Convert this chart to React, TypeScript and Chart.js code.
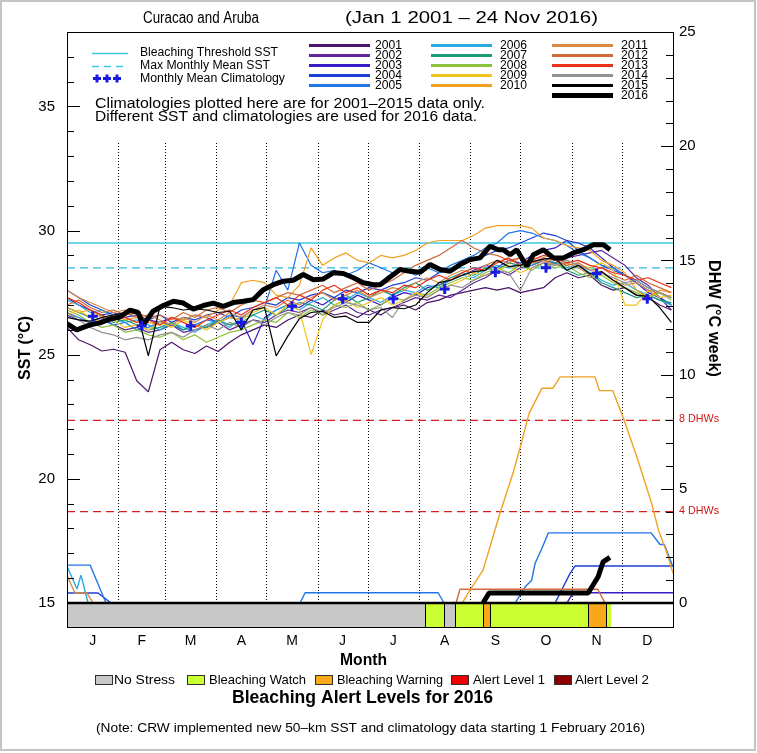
import React, { useEffect, useRef } from "react";
import { Chart, registerables } from "chart.js";
Chart.register(...registerables);

// ---------------- data ----------------
const WEEK_DAYS = [0, 7, 14, 21, 28, 35, 42, 49, 56, 63, 70, 77, 84, 91, 98, 105, 112, 119, 126, 133, 140, 147, 154, 161, 168, 175, 182, 189, 196, 203, 210, 217, 224, 231, 238, 245, 252, 259, 266, 273, 280, 287, 294, 301, 308, 315, 322, 329, 336, 343, 350, 357, 364];

const SST_2001 = [26.1, 25.6, 25.4, 25.15, 25.22, 25.1, 23.95, 23.5, 25.2, 25.5, 25.2, 25.05, 25.35,
  25.13, 25.5, 25.8, 26.0, 26.2, 26.1, 26.4, 26.6, 26.5, 26.8, 26.6, 26.7, 26.5,
  26.8, 26.6, 26.9, 27.0, 26.8, 27.1, 27.2, 27.4, 27.5, 27.6, 27.7, 27.6, 27.7,
  27.5, 27.6, 27.7, 28.1, 28.3, 28.1, 28.2, 27.8, 27.6, 27.7, 27.4, 27.3, 27.0, 26.8];
const SST_2002 = [26.6, 26.4, 26.3, 26.5, 26.2, 26.0, 26.1, 25.9, 26.0, 26.2, 25.9, 26.0, 26.1,
  26.3, 26.0, 26.2, 26.4, 26.3, 26.6, 26.8, 26.7, 26.9, 26.6, 26.8, 27.0, 26.7,
  26.6, 26.8, 26.9, 27.1, 27.3, 27.2, 27.4, 27.3, 27.6, 27.9, 28.1, 28.4, 28.2,
  28.5, 28.6, 28.8, 28.7, 28.9, 29.0, 29.1, 29.2, 28.9, 28.6, 28.1, 27.8, 27.3, 26.8];
const SST_2003 = [27.3, 27.0, 26.8, 26.6, 26.7, 26.5, 26.6, 26.4, 26.3, 26.5, 26.4, 26.6, 26.5,
  26.3, 26.5, 26.4, 25.4, 26.5, 26.8, 27.0, 26.9, 27.2, 27.0, 27.3, 27.1, 27.4,
  27.2, 27.0, 27.3, 27.5, 27.4, 27.7, 27.8, 28.0, 28.2, 28.4, 28.6, 28.5, 28.8,
  28.7, 29.0, 29.2, 29.3, 29.6, 29.5, 29.3, 28.9, 28.5, 28.2, 27.9, 27.5, 27.3, 27.0];
const SST_2004 = [27.6, 27.3, 27.0, 26.8, 26.6, 26.7, 26.5, 26.4, 26.6, 26.3, 26.5, 26.4, 26.6,
  26.7, 26.5, 26.8, 26.9, 27.1, 27.0, 27.3, 27.2, 27.4, 27.5, 27.3, 27.6, 27.5,
  27.7, 27.6, 27.8, 27.9, 28.1, 28.0, 28.3, 28.4, 28.6, 28.9, 29.0, 29.2, 29.3,
  29.5, 29.7, 29.9, 29.8, 29.6, 29.2, 28.9, 28.6, 28.4, 28.2, 27.9, 27.6, 27.3, 27.0];
const SST_2005 = [26.7, 26.5, 26.3, 26.4, 26.2, 26.3, 26.0, 26.1, 26.3, 26.2, 26.0, 26.2, 26.4,
  26.3, 26.6, 26.5, 26.8, 26.9, 28.4, 27.6, 29.5, 28.6, 28.3, 28.4, 28.2, 28.4,
  28.7, 28.5, 28.3, 28.4, 28.2, 28.5, 28.3, 28.6, 28.8, 29.0, 29.3, 29.5, 29.9,
  30.0, 29.9, 29.7, 29.6, 29.4, 29.1, 28.9, 28.6, 28.5, 28.2, 28.0, 27.7, 27.5, 27.3];
const SST_2006 = [27.2, 27.0, 26.7, 26.8, 26.5, 26.3, 26.4, 26.2, 26.0, 26.3, 26.1, 25.9, 26.2,
  26.4, 26.1, 26.5, 26.6, 26.4, 26.8, 27.0, 26.8, 27.1, 27.3, 27.0, 27.2, 27.5,
  27.3, 27.1, 27.4, 27.6, 27.5, 27.8, 27.7, 28.0, 28.2, 28.1, 28.4, 28.6, 28.5,
  28.7, 28.6, 28.9, 28.7, 28.5, 28.6, 28.3, 28.0, 27.8, 27.9, 27.6, 27.4, 27.2, 27.0];
const SST_2007 = [26.9, 26.7, 26.5, 26.6, 26.3, 26.4, 26.2, 26.0, 26.1, 26.3, 26.0, 26.2, 26.1,
  26.4, 26.2, 26.3, 26.6, 26.8, 26.6, 26.9, 27.1, 27.0, 26.8, 27.2, 27.4, 27.1,
  27.3, 27.6, 27.4, 27.7, 27.9, 27.6, 27.8, 28.1, 28.3, 28.2, 28.5, 28.4, 28.7,
  28.6, 28.8, 28.5, 28.7, 28.4, 28.2, 28.3, 27.9, 27.7, 27.5, 27.3, 27.4, 27.2, 27.1];
const SST_2008 = [26.8, 26.6, 26.3, 26.1, 26.2, 25.9, 26.0, 25.8, 25.7, 25.9, 25.6, 25.8, 25.5,
  25.7, 25.9, 26.0, 26.2, 26.4, 26.3, 26.7, 26.5, 26.8, 26.6, 27.0, 26.9, 27.1,
  26.8, 27.0, 27.3, 27.2, 27.5, 27.4, 27.7, 27.9, 28.1, 28.0, 28.3, 28.5, 28.3,
  28.6, 28.4, 28.7, 28.5, 28.6, 28.3, 28.1, 28.2, 27.9, 27.7, 27.5, 27.3, 27.5, 27.2];
const SST_2009 = [26.6, 26.8, 26.5, 26.3, 26.4, 26.1, 26.2, 26.0, 26.3, 26.1, 26.4, 26.2, 26.0,
  26.3, 26.5, 26.4, 26.7, 26.9, 26.6, 27.0, 26.8, 25.0, 26.4, 27.0, 27.2, 26.9,
  27.1, 27.3, 27.0, 27.2, 27.5, 27.3, 27.6, 27.8, 28.0, 28.3, 28.2, 28.4, 28.6,
  28.3, 28.5, 28.7, 28.9, 28.8, 28.6, 28.5, 28.7, 28.4, 27.0, 27.0, 27.6, 27.3, 27.4];
const SST_2010 = [26.9, 26.7, 26.8, 26.5, 26.6, 26.4, 26.5, 26.3, 26.2, 26.5, 26.4, 26.6, 26.5,
  26.8, 27.0, 27.9, 28.0, 27.9, 27.4, 27.3, 27.8, 29.3, 28.6, 28.9, 29.1, 28.8,
  28.7, 29.0, 28.9, 29.0, 29.2, 29.5, 29.6, 29.6, 29.6, 29.8, 30.1, 30.2, 30.2,
  30.2, 30.1, 29.7, 29.6, 29.4, 29.3, 29.2, 28.8, 28.6, 28.3, 27.6, 27.3, 27.6, 27.5];
const SST_2011 = [27.6, 27.3, 27.1, 26.9, 26.7, 26.8, 26.5, 26.6, 26.4, 26.2, 26.5, 26.3, 26.6,
  26.4, 26.7, 26.5, 26.8, 27.0, 26.9, 27.2, 27.0, 27.3, 27.5, 27.2, 27.4, 27.6,
  27.3, 27.5, 27.7, 27.6, 27.9, 28.1, 27.9, 28.2, 28.4, 28.3, 28.6, 28.8, 28.7,
  28.9, 28.7, 28.8, 28.6, 28.7, 28.5, 28.2, 28.3, 28.0, 27.8, 27.9, 27.6, 27.5, 27.3];
const SST_2012 = [27.0, 27.2, 26.9, 26.7, 26.8, 26.6, 26.7, 26.5, 26.6, 26.4, 26.7, 26.5, 26.8,
  26.9, 26.7, 27.0, 27.2, 27.1, 27.3, 27.5, 27.4, 27.6, 27.8, 27.5, 27.7, 27.9,
  27.6, 27.8, 28.0, 28.3, 28.6, 28.8, 29.0, 29.3, 29.6, 29.3, 29.1, 29.0, 28.8,
  28.9, 28.7, 28.9, 28.8, 28.6, 28.7, 28.4, 28.5, 28.2, 28.0, 28.2, 27.9, 27.7, 27.5];
const SST_2013 = [27.3, 27.1, 26.8, 26.6, 26.4, 26.5, 26.3, 26.4, 26.2, 26.5, 26.3, 26.1, 26.4,
  26.6, 26.8, 26.6, 26.9, 27.1, 27.3, 27.0, 27.4, 27.2, 27.6, 27.8, 27.5, 27.7,
  27.4, 27.6, 27.5, 27.8, 27.7, 28.0, 28.2, 28.0, 28.3, 28.5, 28.4, 28.7, 28.9,
  28.6, 28.8, 29.0, 28.9, 28.7, 28.8, 28.6, 28.5, 28.3, 28.2, 28.0, 28.1, 27.9, 27.7];
const SST_2014 = [26.7, 26.4, 26.1, 25.9, 25.8, 25.6, 25.7, 25.6, 25.8, 25.9, 25.7, 26.0, 26.2,
  26.0, 26.3, 26.1, 26.4, 26.2, 26.5, 26.7, 26.6, 26.9, 26.7, 26.9, 27.1, 27.0,
  26.8, 26.9, 26.5, 27.2, 27.4, 27.3, 27.6, 27.8, 27.7, 28.0, 28.2, 28.4, 28.3,
  27.6, 28.5, 28.7, 28.6, 28.8, 28.6, 28.4, 28.3, 28.1, 27.9, 28.0, 27.7, 27.5, 27.3];
const SST_2015 = [26.5, 26.4, 26.35, 26.5, 26.6, 26.7, 26.75, 24.95, 26.95, 26.9, 26.8, 26.85, 26.8,
  26.7, 26.75, 26.0, 26.8, 26.9, 24.95, 25.75, 26.45, 26.7, 26.75, 26.5, 26.55, 26.3,
  26.3, 26.8, 26.9, 26.85, 27.0, 27.5, 27.9, 28.0, 28.2, 28.35, 28.4, 28.8, 28.55,
  28.6, 28.75, 28.85, 28.9, 28.4, 28.6, 28.25, 28.35, 28.0, 27.7, 27.4, 27.35, 26.9, 26.3];

const SST_2016_DAYS = [0, 5.8, 13.9, 19.9, 25.9, 31.9, 38.0, 42.8, 46.0, 51.8,
  58.0, 64.0, 70.1, 76.1, 82.1, 88.1, 94.2, 100.2, 106.2, 112.2,
  118.3, 124.3, 130.3, 136.3, 142.3, 148.4, 154.4, 160.4, 166.4, 172.5,
  178.5, 184.5, 188.6, 194.6, 200.6, 206.6, 212.7, 218.7, 224.7, 230.7,
  236.7, 242.8, 248.8, 254.8, 259.8, 262.8, 266.9, 270.9, 276.9, 280.9,
  286.9, 293.0, 299.0, 305.0, 311.0, 317.0, 323.1, 327.1];
const SST_2016 = [26.25, 26.0, 26.2, 26.28, 26.44, 26.52, 26.8, 26.7, 26.2, 26.75,
  26.98, 27.15, 27.08, 26.84, 26.98, 27.08, 26.95, 27.1, 27.15, 27.22,
  27.62, 27.82, 27.96, 28.0, 28.23, 28.02, 28.05, 28.3, 28.27, 28.1,
  27.9, 27.82, 27.82, 28.13, 28.43, 28.36, 28.32, 28.63, 28.43, 28.36,
  28.63, 28.83, 28.9, 29.37, 29.23, 29.23, 29.03, 29.23, 28.56, 29.03,
  29.23, 28.9, 28.9, 29.1, 29.23, 29.43, 29.43, 29.23];

// Degree heating weeks (right axis)
const DHW_2003_DAYS = [301, 305, 365];
const DHW_2003 = [0, 0.45, 0.45];
const DHW_2004_DAYS = [0, 18.7, 26.5, 294, 303, 306, 365];
const DHW_2004 = [0.44, 0.44, 0, 0, 1.3, 1.62, 1.62];
const DHW_2005_DAYS = [0, 13.9, 23.5, 140.4, 143.4, 223.5, 227.1, 269.9, 276, 279.9, 281.9, 286, 289.9, 351.8, 357.2, 359.8, 365];
const DHW_2005 = [1.66, 1.66, 0, 0, 0.45, 0.45, 0, 0, 0.71, 1.0, 1.73, 2.39, 3.07, 3.07, 2.56, 2.56, 1.58];
const DHW_2006_DAYS = [0, 6, 8.4, 12.7];
const DHW_2006 = [1.62, 0.61, 1.22, 0];
const DHW_2010_DAYS = [238, 243, 250.6, 260.8, 268.7, 272.9, 278.3, 286, 292.6, 297, 318, 320.7, 328.7, 335.1, 343.2, 352.2, 356.2, 361.3, 365];
const DHW_2010 = [0, 0.6, 1.44, 3.94, 5.7, 6.8, 8.3, 9.4, 9.4, 9.9, 9.9, 9.3, 9.3, 8.1, 6.4, 4.35, 3.2, 2.2, 1.3];
const DHW_2011_DAYS = [0, 4.8, 12, 15.7];
const DHW_2011 = [1.2, 0.44, 0.44, 0];
const DHW_2012_DAYS = [234.3, 236.7, 319.7, 324.1];
const DHW_2012 = [0, 0.6, 0.6, 0];
const DHW_2016_DAYS = [250.6, 254.2, 313.9, 319.9, 322.9, 327];
const DHW_2016 = [0, 0.44, 0.44, 1.15, 1.8, 2.0];

const MONTH_LETTERS = ["J", "F", "M", "A", "M", "J", "J", "A", "S", "O", "N", "D"];
const MONTH_MID_DAYS = [15.5, 45, 74.5, 105, 135.5, 166, 196.5, 227.5, 258, 288.5, 319, 349.5];
const MONTH_START_DAYS = [31, 59, 90, 120, 151, 181, 212, 243, 273, 304, 334];
const CLIMATOLOGY = [26.55, 26.17, 26.17, 26.3, 26.95, 27.25, 27.25, 27.65, 28.32, 28.5, 28.27, 27.25];
const BLEACHING_THRESHOLD = 29.5;
const MAX_MONTHLY_MEAN = 28.5;
const DHW_LEVELS = [8, 4];
const SST_TICKS = [15, 20, 25, 30, 35];
const DHW_TICKS = [0, 5, 10, 15, 20, 25];

// 2016 alert bar
const ALERT_START_DAYS = [0, 215.7, 227.1, 233.7, 250.6, 254.8, 313.9, 324.7];
const ALERT_END_DAY = 327.7;
const ALERT_LEVELS = [0, 1, 0, 1, 2, 1, 2, 1];
const ALERT_NAMES = ["No Stress", "Bleaching Watch", "Bleaching Warning", "Alert Level 1", "Alert Level 2"];
const ALERT_COLORS = ["#c8c8c8", "#ccff33", "#f8a818", "#ee0000", "#8b0000"];

const YEAR_LABELS = ["2001", "2002", "2003", "2004", "2005", "2006", "2007", "2008", "2009", "2010", "2011", "2012", "2013", "2014", "2015", "2016"];
const YEAR_COLORS = ["#4a1468", "#62289a", "#3a1cc4", "#1f40d6", "#1f76e4", "#2aaade", "#1a9c78", "#8cc23c", "#f2c41c", "#f2a022", "#d98a45", "#d26a3a", "#ea3018", "#929292", "#000000", "#000000"];
const YEAR_SST = [SST_2001, SST_2002, SST_2003, SST_2004, SST_2005, SST_2006, SST_2007, SST_2008, SST_2009, SST_2010, SST_2011, SST_2012, SST_2013, SST_2014, SST_2015];
const YEAR_DHW = [
  { year: "2003", days: DHW_2003_DAYS, vals: DHW_2003 },
  { year: "2004", days: DHW_2004_DAYS, vals: DHW_2004 },
  { year: "2005", days: DHW_2005_DAYS, vals: DHW_2005 },
  { year: "2006", days: DHW_2006_DAYS, vals: DHW_2006 },
  { year: "2011", days: DHW_2011_DAYS, vals: DHW_2011 },
  { year: "2012", days: DHW_2012_DAYS, vals: DHW_2012 },
  { year: "2010", days: DHW_2010_DAYS, vals: DHW_2010 },
];

// ---------------- helpers ----------------
const FONT = "'Liberation Sans', 'DejaVu Sans', Arial, sans-serif";
const TICK_FONT = "'Liberation Sans Narrow', 'Liberation Sans', 'DejaVu Sans', sans-serif";

const pts = (xs: number[], ys: number[]) => xs.map((x, i) => ({ x, y: ys[i] }));
const colorOf = (year: string) => YEAR_COLORS[YEAR_LABELS.indexOf(year)];

function fitText(ctx: CanvasRenderingContext2D, text: string, cx: number, cy: number, w: number, size: number, bold = false, color = "#000", rot = 0) {
  ctx.save();
  ctx.font = `${bold ? "bold " : ""}${size}px ${FONT}`;
  const m = ctx.measureText(text).width || 1;
  ctx.translate(cx, cy);
  if (rot) ctx.rotate(rot);
  ctx.scale(w / m, 1);
  ctx.textAlign = "center";
  ctx.textBaseline = "middle";
  ctx.fillStyle = color;
  ctx.fillText(text, 0, 0);
  ctx.restore();
}
const fitLeft = (ctx: CanvasRenderingContext2D, text: string, left: number, cy: number, w: number, size: number, bold = false, color = "#000") =>
  fitText(ctx, text, left + w / 2, cy, w, size, bold, color);

function line(ctx: CanvasRenderingContext2D, x0: number, y0: number, x1: number, y1: number) {
  ctx.beginPath();
  ctx.moveTo(x0, y0);
  ctx.lineTo(x1, y1);
  ctx.stroke();
}

const crwPlugin = {
  id: "crw",
  beforeDraw(chart: any) {
    const ctx = chart.ctx;
    ctx.save();
    ctx.fillStyle = "#ffffff";
    ctx.fillRect(0, 0, chart.width, chart.height);
    ctx.restore();
  },
  beforeDatasetsDraw(chart: any) {
    const { ctx, chartArea: a, scales } = chart;
    const xs = scales.x, ys = scales.y;
    ctx.save();
    // month dotted lines
    ctx.strokeStyle = "#000";
    ctx.lineWidth = 1;
    ctx.setLineDash([1, 2]);
    const yBase = Math.round(ys.getPixelForValue(15));
    MONTH_START_DAYS.forEach((d) => {
      const px = Math.round(xs.getPixelForValue(d)) + 0.5;
      line(ctx, px, a.top + 111, px, yBase);
    });
    ctx.setLineDash([]);
    // alert bar
    const top = ys.getPixelForValue(15);
    const bot = a.bottom;
    ALERT_START_DAYS.forEach((d, k) => {
      const x0 = xs.getPixelForValue(d);
      const x1 = xs.getPixelForValue(k + 1 < ALERT_START_DAYS.length ? ALERT_START_DAYS[k + 1] : ALERT_END_DAY);
      ctx.fillStyle = ALERT_COLORS[ALERT_LEVELS[k]];
      ctx.fillRect(x0, top, x1 - x0, bot - top);
    });
    ctx.strokeStyle = "#000";
    ctx.lineWidth = 1;
    ALERT_START_DAYS.forEach((d, k) => {
      if (k === 0) return;
      const px = Math.round(xs.getPixelForValue(d)) + 0.5;
      line(ctx, px, top, px, bot);
    });
    ctx.restore();
  },
  afterDatasetsDraw(chart: any) {
    const { ctx, chartArea: a, scales } = chart;
    const ys = scales.y, y2 = scales.y2;
    ctx.save();
    // frame
    ctx.strokeStyle = "#000";
    ctx.lineWidth = 1;
    ctx.strokeRect(Math.round(a.left) + 0.5, Math.round(a.top) + 0.5, Math.round(a.right - a.left), Math.round(a.bottom - a.top));
    // inner ticks
    for (let v = 15; v <= 38; v++) {
      const py = Math.round(ys.getPixelForValue(v)) + 0.5;
      line(ctx, a.left, py, a.left + (v % 5 === 0 ? 13 : 7), py);
    }
    for (let v = 0; v <= 25; v++) {
      const py = Math.round(y2.getPixelForValue(v)) + 0.5;
      line(ctx, a.right, py, a.right - (v % 5 === 0 ? 12 : 7), py);
    }
    // DHW labels
    DHW_LEVELS.forEach((lv) => {
      fitLeft(ctx, `${lv} DHWs`, a.right + 6, y2.getPixelForValue(lv) - 1, 40, 11, false, "#d01818");
    });
    // outer light border
    ctx.strokeStyle = "#c4c4c4";
    ctx.lineWidth = 2;
    ctx.strokeRect(1, 1, 754, 749);

    // title
    fitLeft(ctx, "Curacao and Aruba", 143, 19, 116, 16);
    fitLeft(ctx, "(Jan 1 2001 \u2013 24 Nov 2016)", 345, 19, 253, 16);

    // legend (left block)
    ctx.lineWidth = 1.5;
    ctx.strokeStyle = "#3cc8e4";
    line(ctx, 92, 53.5, 128, 53.5);
    ctx.setLineDash([7, 5]);
    line(ctx, 92, 66.5, 128, 66.5);
    ctx.setLineDash([]);
    ctx.strokeStyle = "#1a1ae6";
    ctx.lineWidth = 3;
    [97, 107, 117].forEach((cx) => {
      line(ctx, cx - 4, 78.5, cx + 4, 78.5);
      line(ctx, cx, 74.5, cx, 82.5);
    });
    fitLeft(ctx, "Bleaching Threshold SST", 140, 53, 138, 12);
    fitLeft(ctx, "Max Monthly Mean SST", 140, 66, 130, 12);
    fitLeft(ctx, "Monthly Mean Climatology", 140, 78.5, 145, 12);
    fitLeft(ctx, "Climatologies plotted here are for 2001\u20132015 data only.", 95, 104, 390, 14);
    fitLeft(ctx, "Different SST and climatologies are used for 2016 data.", 95, 117, 382, 14);

    // year legend
    const colLine = [309, 431, 552];
    const colText = [375, 500, 621];
    YEAR_LABELS.forEach((yr, k) => {
      const col = Math.min(Math.floor(k / 5), 2);
      const row = k < 15 ? k % 5 : 5;
      const yy = 45.5 + 10 * row;
      ctx.strokeStyle = YEAR_COLORS[k];
      ctx.lineWidth = yr === "2016" ? 5 : 3;
      line(ctx, colLine[col], yy, colLine[col] + 61, yy);
      fitLeft(ctx, yr, colText[col], yy, 27, 12.5);
    });

    // axis titles
    fitText(ctx, "SST (\u00B0C)", 26, 348, 64, 16, true, "#000", -Math.PI / 2);
    fitText(ctx, "DHW (\u00B0C week)", 713, 318.5, 117, 16, true, "#000", Math.PI / 2);
    fitText(ctx, "Month", 363.5, 661, 47, 16, true);

    // alert legend
    const boxX = [95, 187, 315, 451, 554];
    const txtX = [114, 209, 337, 473, 575];
    const txtW = [61, 97, 106, 72, 74];
    ALERT_NAMES.forEach((nm, k) => {
      ctx.fillStyle = ALERT_COLORS[k];
      ctx.fillRect(boxX[k], 675, 17, 9);
      ctx.strokeStyle = "#333";
      ctx.lineWidth = 1;
      ctx.strokeRect(boxX[k] + 0.5, 675.5, 17, 9);
      fitLeft(ctx, nm, txtX[k], 680, txtW[k], 13);
    });
    fitLeft(ctx, "Bleaching Alert Levels for 2016", 232, 698, 261, 18, true);
    fitLeft(ctx, "(Note: CRW implemented new 50\u2013km SST and climatology data starting 1 February 2016)", 96, 728, 549, 13);
    ctx.restore();
  },
};

// ---------------- datasets ----------------
function buildDatasets() {
  const bottomToTop: any[] = [];
  const base = { pointRadius: 0, borderJoinStyle: "bevel", tension: 0, fill: false };
  bottomToTop.push({ ...base, label: "Bleaching Threshold SST", yAxisID: "y", data: pts([0, 365], [BLEACHING_THRESHOLD, BLEACHING_THRESHOLD]), borderColor: "#3cc8e4", borderWidth: 1.3 });
  bottomToTop.push({ ...base, label: "Max Monthly Mean SST", yAxisID: "y", data: pts([0, 365], [MAX_MONTHLY_MEAN, MAX_MONTHLY_MEAN]), borderColor: "#30b8e0", borderWidth: 1.3, borderDash: [8, 5] });
  DHW_LEVELS.forEach((lv) => {
    bottomToTop.push({ ...base, label: `${lv} DHWs`, yAxisID: "y2", data: pts([0, 365], [lv, lv]), borderColor: "#d42020", borderWidth: 1.2, borderDash: [8, 5] });
  });
  YEAR_DHW.forEach((d) => {
    bottomToTop.push({ ...base, label: `DHW ${d.year}`, yAxisID: "y2", data: pts(d.days, d.vals), borderColor: colorOf(d.year), borderWidth: 1.4 });
  });
  bottomToTop.push({ ...base, label: "DHW 0", yAxisID: "y2", data: pts([0, 365], [0, 0]), borderColor: "#000", borderWidth: 2.5 });
  YEAR_SST.forEach((vals, k) => {
    bottomToTop.push({ ...base, label: YEAR_LABELS[k], yAxisID: "y", data: pts(WEEK_DAYS, vals), borderColor: YEAR_COLORS[k], borderWidth: 1.2 });
  });
  bottomToTop.push({ ...base, label: "DHW 2016", yAxisID: "y2", data: pts(DHW_2016_DAYS, DHW_2016), borderColor: "#000", borderWidth: 5 });
  bottomToTop.push({ ...base, label: "2016", yAxisID: "y", data: pts(SST_2016_DAYS, SST_2016), borderColor: "#000", borderWidth: 5 });
  bottomToTop.push({
    label: "Monthly Mean Climatology", yAxisID: "y", data: pts(MONTH_MID_DAYS, CLIMATOLOGY), showLine: false,
    pointStyle: "cross", pointRadius: 5, pointBorderWidth: 3, pointBorderColor: "#1a1ae6", pointBackgroundColor: "#1a1ae6",
  });
  return bottomToTop.reverse();
}

export default function App() {
  const ref = useRef<HTMLCanvasElement>(null);
  useEffect(() => {
    const canvas = ref.current;
    if (!canvas) return;
    const tickFont = { family: TICK_FONT, size: 15 };
    const chart = new Chart(canvas, {
      type: "line",
      data: { datasets: buildDatasets() },
      plugins: [crwPlugin],
      options: {
        responsive: false,
        animation: false,
        devicePixelRatio: 1,
        events: [],
        layout: { padding: { top: 32, left: 0, right: 0, bottom: 0 } },
        plugins: { legend: { display: false }, tooltip: { enabled: false }, title: { display: false } },
        scales: {
          x: {
            type: "linear", min: 0, max: 365,
            grid: { display: false, drawTicks: false }, border: { display: false },
            afterBuildTicks: (s: any) => { s.ticks = MONTH_MID_DAYS.map((v) => ({ value: v })); },
            afterFit: (s: any) => { s.height = 126; },
            ticks: { autoSkip: false, maxRotation: 0, minRotation: 0, padding: 6, color: "#000", font: { family: TICK_FONT, size: 14 }, callback: (_v: any, i: number) => MONTH_LETTERS[i] },
          },
          y: {
            type: "linear", position: "left", min: 14.03, max: 38.0,
            grid: { display: false, drawTicks: false }, border: { display: false },
            afterBuildTicks: (s: any) => { s.ticks = SST_TICKS.map((v) => ({ value: v })); },
            afterFit: (s: any) => { s.width = 67; },
            ticks: { padding: 12, color: "#000", font: tickFont, callback: (v: any) => String(v) },
          },
          y2: {
            type: "linear", position: "right", min: -1.05, max: 25,
            grid: { display: false, drawTicks: false }, border: { display: false },
            afterBuildTicks: (s: any) => { s.ticks = DHW_TICKS.map((v) => ({ value: v })); },
            afterFit: (s: any) => { s.width = 84; },
            ticks: { padding: 6, color: "#000", font: tickFont, callback: (v: any) => String(v) },
          },
        },
      } as any,
    } as any);
    return () => chart.destroy();
  }, []);
  return (
    <div style={{ position: "absolute", left: 0, top: 0, width: 757, height: 753, background: "#fff" }}>
      <canvas ref={ref} width={757} height={753} style={{ display: "block", width: 757, height: 753 }} />
    </div>
  );
}
